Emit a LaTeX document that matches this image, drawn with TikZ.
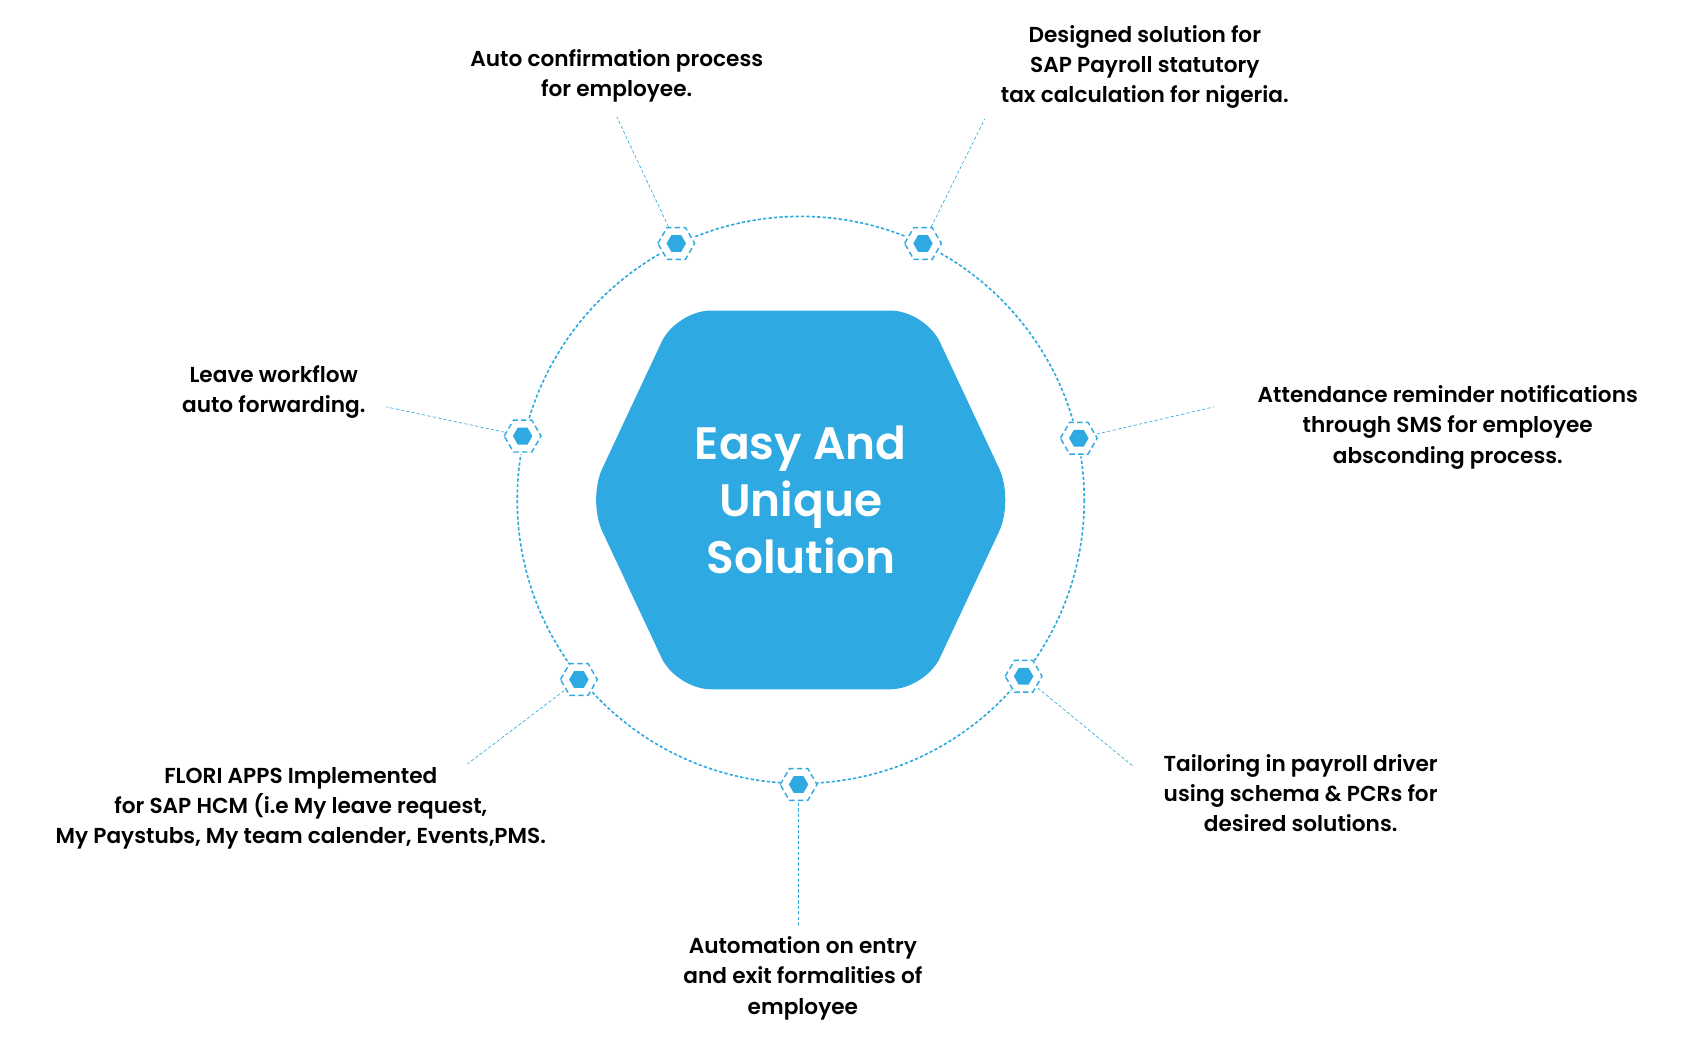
\documentclass[tikz,border=0pt]{standalone}
\usepackage{fontspec}
\setmainfont{Poppins}[BoldFont={Poppins SemiBold}]
\usetikzlibrary{calc}
\definecolor{bl}{HTML}{2EA9E1}
\begin{document}
\begin{tikzpicture}[x=1pt,y=-1pt,
 lbl/.style={align=center,font=\bfseries\fontsize{20}{28}\selectfont,text=black},
 lead/.style={bl,densely dashed,line width=0.6pt}]
\useasboundingbox (0,0) rectangle (1560,967);
\draw[bl,densely dashed,line width=1.5pt] (740,462) circle (262);
\fill[bl,rounded corners=32] (543,462)--(625,287)--(855,287)--(937,462)--(855,637)--(625,637)--cycle;
\node[font=\bfseries\fontsize{42}{53}\selectfont,text=white,align=center] (c) at (740,462) {Easy And\\Unique\\Solution};
\foreach \n/\x/\y in {m1/625/225,m2/853/225,m3/997/405,m4/946/625,m5/738/725,m6/535/628,m7/483/403}{
 \fill[white] (\x,\y) circle (17);
 \draw[bl,dash pattern=on 5pt off 3pt,line width=1.3pt] (\x-17,\y)--(\x-8.5,\y-14.7)--(\x+8.5,\y-14.7)--(\x+17,\y)--(\x+8.5,\y+14.7)--(\x-8.5,\y+14.7)--cycle;
 \fill[bl] (\x-9,\y)--(\x-4.5,\y-7.8)--(\x+4.5,\y-7.8)--(\x+9,\y)--(\x+4.5,\y+7.8)--(\x-4.5,\y+7.8)--cycle;
 \coordinate (\n) at (\x,\y);
}
\node[lbl] (t1) at (570,70) {Auto confirmation process\\for employee.};
\node[lbl] (t2) at (1058,62) {Designed solution for\\SAP Payroll statutory\\tax calculation for nigeria.};
\node[lbl] (t3) at (1338,395) {Attendance reminder notifications\\through SMS for employee\\absconding process.};
\node[lbl] (t4) at (1202,733) {Tailoring in payroll driver\\using schema \& PCRs for\\desired solutions.};
\node[lbl] (t5) at (742,904) {Automation on entry\\and exit formalities of\\employee};
\node[lbl] (t6) at (278,747) {FLORI APPS Implemented\\for SAP HCM (i.e My leave request,\\My Paystubs, My team calender, Events,PMS.};
\node[lbl] (t7) at (253,362) {Leave workflow\\auto forwarding.};
\coordinate (e1) at (570,108); \coordinate (e2) at (910,110);
\coordinate (e3) at (1122,376); \coordinate (e4) at (1047,708);
\coordinate (e5) at (738,855); \coordinate (e6) at (432,706);
\coordinate (e7) at (357,376);
\foreach \i in {1,...,7}{\draw[lead] ($(m\i)!17pt!(e\i)$) -- (e\i);}
\end{tikzpicture}
\end{document}
